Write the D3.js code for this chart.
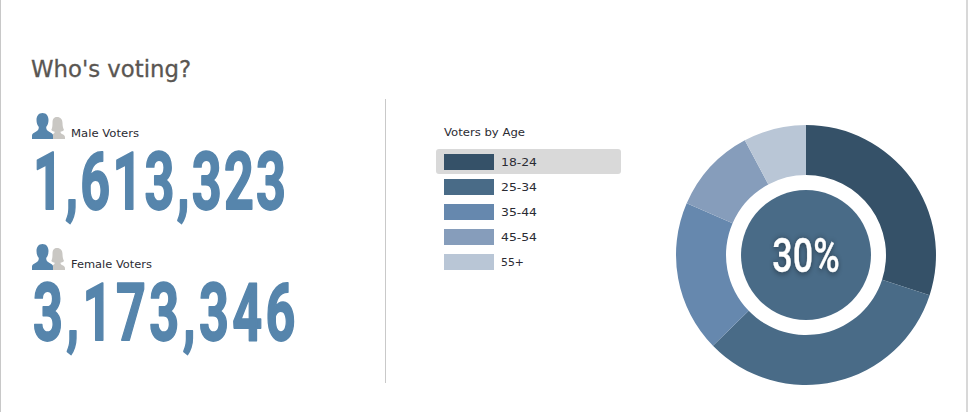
<!DOCTYPE html>
<html><head><meta charset="utf-8">
<script src="https://cdn.jsdelivr.net/npm/d3@7"></script>
<style>html,body{margin:0;padding:0;background:#fff;overflow:hidden}svg{display:block}</style>
</head><body><svg id="c" width="968" height="412"></svg>
<script>
const genders = ["Male Voters", "Female Voters"];
const genderValues = [1613323, 3173346];
const ageGroups = ["18-24", "25-34", "35-44", "45-54", "55+"];
const agePercents = [30, 32.7, 18.8, 10.7, 7.8];
const ageColors = ["#355168", "#496b87", "#6688ae", "#869dbb", "#b9c6d6"];
const selectedAge = 0;
const title = "Who's voting?";
const legendTitle = "Voters by Age";

const svg = d3.select("#c");
const sans = "'DejaVu Sans', sans-serif";
const cond = "Roboto, 'Open Sans', sans-serif";

// frame
svg.append("rect").attr("x",0).attr("y",0).attr("width",1).attr("height",412).attr("fill","#c8c8c8");
svg.append("rect").attr("x",966).attr("y",0).attr("width",2).attr("height",412).attr("fill","#d8d8d8");

svg.append("text").attr("x",31).attr("y",77).attr("font-family",sans).attr("font-size",23)
  .attr("fill","#5a5652").attr("stroke","#5a5652").attr("stroke-width",0.3)
  .attr("textLength",160).attr("lengthAdjust","spacingAndGlyphs").text(title);

svg.append("rect").attr("x",385).attr("y",99).attr("width",1).attr("height",284).attr("fill","#c9c9c9");

// gender blocks
const yBlock = d3.scalePoint().domain(genders).range([0,131]);
const fmt = d3.format(",");
const labelLen = [68, 81];
const numSpacing = [3.4, 5.2];
genders.forEach((g,i)=>{
  const gr = svg.append("g").attr("transform",`translate(0,${yBlock(g)})`);
  gr.append("path").attr("transform","translate(49,113)")
    .attr("d","M8 4c3.500 0 5.500 2.500 5.500 6 0 3 .5 5 1.500 7-1 1-2.500 1.500-3.500 1.800 0 1.200.5 1.700 2 2.500 1.500.8 2.500 1.500 2.500 3.200V26H1v-1.500c0-1.700 1-2.400 2.500-3.200 1.500-.8 2.200-1.300 2.200-2.500C4.700 18.500 3.300 18 2.300 17c1-2 1.200-4 1.200-7 0-3.500 1-6 4.500-6z")
    .attr("fill","#c9c7c3");
  gr.append("path").attr("transform","translate(32,113)")
    .attr("d","M10.500 0c3.800 0 6 2.800 6 7 0 3-.8 5.300-2.300 7 0 2.500.6 3.500 3 4.800 2.500 1.300 3.800 2.200 3.800 3.700V26H0v-3.500c0-1.500 1.300-2.400 3.800-3.700 2.400-1.300 3-2.300 3-4.800C5.300 12.300 4.500 10 4.500 7c0-4.200 2.200-7 6-7z")
    .attr("fill","#5685ac");
  gr.append("text").attr("x",71).attr("y",137).attr("font-family",sans).attr("font-size",11)
    .attr("fill","#2b2b33").attr("textLength",labelLen[i]).attr("lengthAdjust","spacingAndGlyphs").text(g);
  gr.append("text").attr("transform","translate(33,209) scale(0.66,1)")
    .attr("font-family",cond).attr("font-weight",700).attr("font-size",79)
    .attr("letter-spacing",numSpacing[i])
    .attr("fill","#5685ac").attr("stroke","#5685ac").attr("stroke-width",1.8).attr("stroke-linejoin","round")
    .text(fmt(genderValues[i]));
});

// legend
svg.append("text").attr("x",444).attr("y",136).attr("font-family",sans).attr("font-size",11)
  .attr("fill","#2b2b33").attr("textLength",81).attr("lengthAdjust","spacingAndGlyphs").text(legendTitle);
const yLeg = d3.scalePoint().domain(ageGroups).range([162,262]);
svg.append("rect").attr("x",436).attr("y",149).attr("width",185).attr("height",25).attr("rx",3)
  .attr("fill","#d9d9d9");
const leg = svg.selectAll("g.leg").data(ageGroups).join("g").attr("class","leg")
  .attr("transform",d=>`translate(0,${yLeg(d)})`);
leg.append("rect").attr("x",444).attr("y",-8).attr("width",50).attr("height",16)
  .attr("fill",(d,i)=>ageColors[i]);
leg.append("text").attr("x",501).attr("y",4).attr("font-family",sans).attr("font-size",11)
  .attr("fill","#2b2b33").attr("textLength",d=>d.length>3?36:23).attr("lengthAdjust","spacingAndGlyphs").text(d=>d);

// donut
const pie = d3.pie().sort(null)(agePercents);
const arc = d3.arc().innerRadius(80).outerRadius(130);
const cg = svg.append("g").attr("transform","translate(806,255)");
cg.selectAll("path").data(pie).join("path").attr("d",arc).attr("fill",(d,i)=>ageColors[i]);
cg.append("circle").attr("r",65).attr("fill",ageColors[1]);
cg.append("text").attr("transform","translate(0,17) scale(0.75,1)").attr("text-anchor","middle")
  .attr("font-family",cond).attr("font-weight",500).attr("font-size",48)
  .attr("fill","#fff").attr("stroke","#fff").attr("stroke-width",0.4)
  .style("filter","drop-shadow(0 1px 3px rgba(0,0,0,.45))")
  .text(agePercents[selectedAge].toFixed(0)+"%");
</script></body></html>
